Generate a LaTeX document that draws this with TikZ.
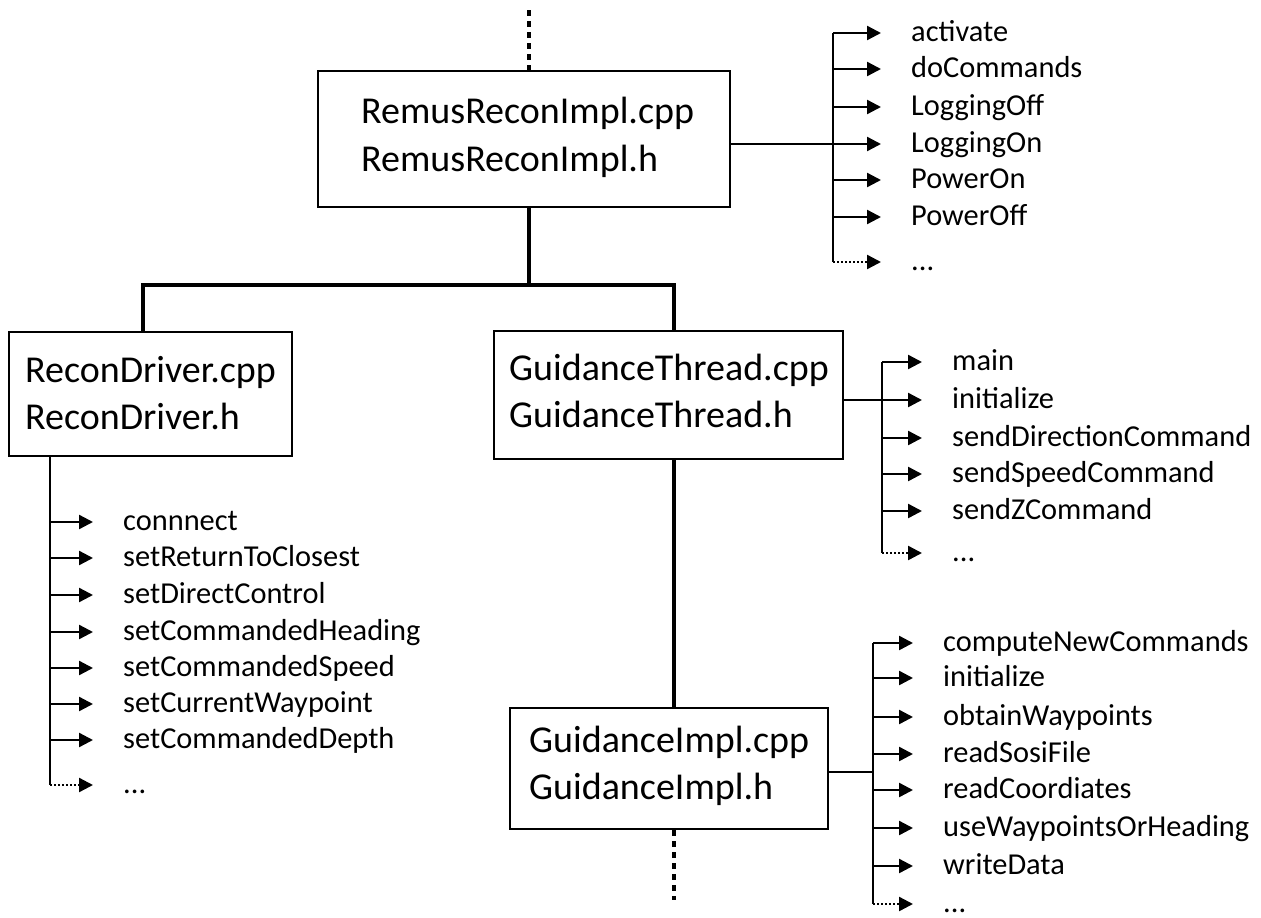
\documentclass[tikz,border=0pt]{standalone}
\usepackage{fontspec}
\setmainfont{Carlito}
\usetikzlibrary{arrows.meta}
\tikzset{
  filebox/.style={draw, line width=2.6pt, rectangle, inner sep=0pt},
  ftext/.style={anchor=base west, inner sep=0pt, font=\fontsize{38}{44}\selectfont},
  lbl/.style={anchor=west, inner sep=0pt, text height=21pt, text depth=5pt, font=\fontsize{30.4}{36}\selectfont},
  dots/.style={lbl, text height=16pt, text depth=0pt},
  trunk/.style={line width=4.2pt, line join=miter},
  branch/.style={line width=2.4pt},
  arr/.style={line width=2.4pt, -{Triangle[length=14pt,width=14pt]}, shorten >=30pt},
  darr/.style={line width=2.4pt, dash pattern=on 2pt off 2pt, -{Triangle[length=14pt,width=14pt]}, shorten >=30pt},
  thickdot/.style={line width=4.5pt, dash pattern=on 5.5pt off 5.5pt},
}
\begin{document}
\begin{tikzpicture}[x=1pt,y=-1pt]
\useasboundingbox (0,0) rectangle (1261,918);
% boxes
\node[filebox, minimum width=412pt, minimum height=136pt] (R) at (524,139) {};
\node[filebox, minimum width=283pt, minimum height=124pt] (RD) at (150.5,394) {};
\node[filebox, minimum width=349pt, minimum height=128pt] (GT) at (668.5,395) {};
\node[filebox, minimum width=318pt, minimum height=121pt] (GI) at (669,768.5) {};
% box texts
\node[ftext] (Rt1) at (361,123) {RemusReconImpl.cpp};
\node[ftext] (Rt2) at (361,171) {RemusReconImpl.h};
\node[ftext] (RDt1) at (25,382) {ReconDriver.cpp};
\node[ftext] (RDt2) at (25,429) {ReconDriver.h};
\node[ftext] (GTt1) at (509,380) {GuidanceThread.cpp};
\node[ftext] (GTt2) at (509,427) {GuidanceThread.h};
\node[ftext] (GIt1) at (529,752) {GuidanceImpl.cpp};
\node[ftext] (GIt2) at (529,799) {GuidanceImpl.h};
% tree
\coordinate (Rtop) at (529,10);
\coordinate (J) at (529,285);
\coordinate (jl) at (143,285);
\coordinate (jr) at (674,285);
\coordinate (GIend) at (674,900);
\draw[thickdot] (Rtop) -- (Rtop |- R.north);
\draw[trunk] (J |- R.south) -- (J);
\draw[trunk] (jl |- RD.north) -- (jl) -- (jr) -- (jr |- GT.north);
\draw[trunk] (jr |- GT.south) -- (jr |- GI.north);
\draw[thickdot] (GIend |- GI.south) -- (GIend);
% Remus list
\coordinate (Rv) at (833,144);
\foreach \t/\y [count=\i] in {activate/33, doCommands/69, LoggingOff/107, LoggingOn/144, PowerOn/180, PowerOff/217}{
  \node[lbl] (Rl\i) at (911,\y) {\t};
  \draw[arr] (Rv |- Rl\i.west) -- (Rl\i.west);
}
\node[dots] (Rl7) at (911,262) {...};
\draw[darr] (Rv |- Rl7.west) -- (Rl7.west);
\draw[branch] (Rv -| R.east) -- (Rv);
\draw[branch] (Rv |- Rl1.west) -- (Rv |- Rl7.west);
% GuidanceThread list
\coordinate (GTv) at (882,400);
\foreach \t/\y [count=\i] in {main/362, initialize/400, sendDirectionCommand/438, sendSpeedCommand/474, sendZCommand/511}{
  \node[lbl] (GTl\i) at (952,\y) {\t};
  \draw[arr] (GTv |- GTl\i.west) -- (GTl\i.west);
}
\node[dots] (GTl6) at (952,553) {...};
\draw[darr] (GTv |- GTl6.west) -- (GTl6.west);
\draw[branch] (GTv -| GT.east) -- (GTv);
\draw[branch] (GTv |- GTl1.west) -- (GTv |- GTl6.west);
% GuidanceImpl list
\coordinate (GIv) at (873,772);
\foreach \t/\y [count=\i] in {computeNewCommands/643, initialize/678, obtainWaypoints/717, readSosiFile/754, readCoordiates/790, useWaypointsOrHeading/828, writeData/866}{
  \node[lbl] (GIl\i) at (943,\y) {\t};
  \draw[arr] (GIv |- GIl\i.west) -- (GIl\i.west);
}
\node[dots] (GIl8) at (943,904) {...};
\draw[darr] (GIv |- GIl8.west) -- (GIl8.west);
\draw[branch] (GIv -| GI.east) -- (GIv);
\draw[branch] (GIv |- GIl1.west) -- (GIv |- GIl8.west);
% ReconDriver list
\coordinate (RDv) at (50,600);
\foreach \t/\y [count=\i] in {connnect/522, setReturnToClosest/558, setDirectControl/595, setCommandedHeading/632, setCommandedSpeed/668, setCurrentWaypoint/704, setCommandedDepth/740}{
  \node[lbl] (RDl\i) at (123,\y) {\t};
  \draw[arr] (RDv |- RDl\i.west) -- (RDl\i.west);
}
\node[dots] (RDl8) at (123,785) {...};
\draw[darr] (RDv |- RDl8.west) -- (RDl8.west);
\draw[branch] (RDv |- RD.south) -- (RDv |- RDl8.west);
\end{tikzpicture}
\end{document}
